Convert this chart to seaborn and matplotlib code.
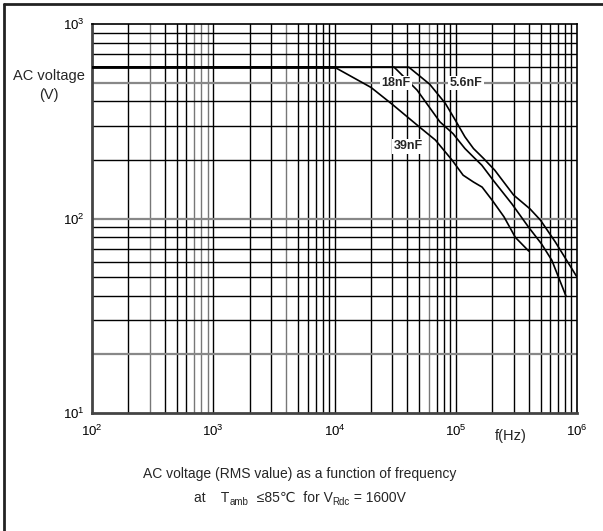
import numpy as np
import pandas as pd
import matplotlib
matplotlib.use("Agg")
import matplotlib.pyplot as plt
from matplotlib.ticker import LogLocator, LogFormatterMathtext, NullLocator
import seaborn as sns

# Rated AC voltage vs frequency (V rms), one curve per capacitance
freq_39nF = [1e2, 1e4, 2e4, 3e4, 5e4, 6.8e4, 9.3e4, 1.15e5, 1.4e5, 1.65e5, 2.0e5, 2.5e5, 3.1e5, 4.0e5]
volt_39nF = [600, 600, 472, 386, 296, 253, 200, 167, 154, 145, 124, 102, 80, 68]

freq_18nF = [1e2, 3.1e4, 3.5e4, 4.8e4, 7.4e4, 9.5e4, 1.19e5, 1.4e5, 1.64e5, 2.04e5, 2.9e5, 4.0e5, 5.1e5, 6.2e5, 8.1e5]
volt_18nF = [600, 600, 557, 457, 314, 273, 229, 207, 188, 157, 119, 90, 74, 61, 40]

freq_5n6F = [1e2, 4.1e4, 6.1e4, 8.2e4, 9.9e4, 1.19e5, 1.4e5, 1.69e5, 2.1e5, 3.0e5, 4.1e5, 5.0e5, 6.6e5, 1e6]
volt_5n6F = [600, 600, 490, 391, 321, 263, 229, 204, 177, 132, 112, 98, 76, 50]

curve_names = ["39nF", "18nF", "5.6nF"]
label_pos = {"18nF": (3.2e4, 497), "5.6nF": (1.22e5, 497), "39nF": (4.05e4, 235)}

flat_freq = [1e2, 1e4]
flat_volt = [600, 600]

sns.set_style("white")
plt.rcParams["font.family"] = ["Liberation Sans", "DejaVu Sans"]
plt.rcParams["mathtext.fontset"] = "custom"
plt.rcParams["mathtext.rm"] = "Liberation Sans"
plt.rcParams["mathtext.it"] = "Liberation Sans:italic"
plt.rcParams["mathtext.bf"] = "Liberation Sans:bold"

W, H = 603, 531
fig = plt.figure(figsize=(W / 100, H / 100), dpi=100)
ax = fig.add_axes([92 / W, 1 - 413 / H, (577 - 92) / W, (413 - 24) / H])

ax.set_xscale("log")
ax.set_yscale("log")
ax.set_xlim(1e2, 1e6)
ax.set_ylim(1e1, 1e3)

# grid: every 1..9 step of each decade; a few lines drawn lighter
gray_x = {300, 700, 800, 900, 4000, 60000}
gray_y = {20, 100, 500}
for dec in [1e2, 1e3, 1e4, 1e5]:
    for m in range(1, 10):
        v = dec * m
        if v <= 1e2:
            continue
        c = "#777777" if int(round(v)) in gray_x else "black"
        ax.axvline(v, color=c, lw=1.0, zorder=1)
for dec in [1e1, 1e2]:
    for m in range(1, 10):
        v = dec * m
        if v <= 1e1:
            continue
        c = "#888888" if int(round(v)) in gray_y else "black"
        ax.axhline(v, color=c, lw=1.0 if c == "black" else 1.6, zorder=1)

frames = []
for name, f, v in [("39nF", freq_39nF, volt_39nF), ("18nF", freq_18nF, volt_18nF), ("5.6nF", freq_5n6F, volt_5n6F)]:
    frames.append(pd.DataFrame({"f": f, "V": v, "C": name}))
df = pd.concat(frames, ignore_index=True)

sns.lineplot(data=df, x="f", y="V", hue="C", units="C", estimator=None, sort=False,
             palette={n: "black" for n in curve_names}, lw=1.2, legend=False, ax=ax, zorder=3)
sns.lineplot(x=flat_freq, y=flat_volt, color="black", lw=2.0, ax=ax, zorder=4)

for name in curve_names:
    x, y = label_pos[name]
    ax.text(x, y, name, fontsize=9, fontweight="bold", ha="center", va="center", zorder=5,
            bbox=dict(facecolor="white", edgecolor="none", pad=1.0))

ax.xaxis.set_major_locator(LogLocator(base=10, numticks=10))
ax.yaxis.set_major_locator(LogLocator(base=10, numticks=10))
ax.xaxis.set_minor_locator(NullLocator())
ax.yaxis.set_minor_locator(NullLocator())
ax.xaxis.set_major_formatter(LogFormatterMathtext())
ax.yaxis.set_major_formatter(LogFormatterMathtext())
ax.tick_params(axis="both", length=0, labelsize=9.5, colors="black")
ax.tick_params(axis="x", pad=8)
ax.tick_params(axis="y", pad=5)
ax.set_xlabel("")
ax.set_ylabel("")

for s in ["left", "bottom"]:
    ax.spines[s].set_color("#444444")
    ax.spines[s].set_linewidth(2.0)
for s in ["top", "right"]:
    ax.spines[s].set_color("black")
    ax.spines[s].set_linewidth(1.2)

fig.text(49 / W, 1 - 76 / H, "AC voltage", fontsize=10.5, ha="center", va="center")
fig.text(49 / W, 1 - 95 / H, "(V)", fontsize=10.5, ha="center", va="center")
fig.text(511 / W, 1 - 436 / H, "f(Hz)", fontsize=10.5, ha="center", va="center")

fig.text(300 / W, 1 - 474 / H, "AC voltage (RMS value) as a function of frequency",
         fontsize=10, ha="center", va="center")

# second caption line, built piece by piece so subscripts and the Celsius sign render
pieces = [("at    T", 10, 0), ("amb", 7, -3), ("  \u226485\u2103  for V", 10, 0),
          ("Rdc", 7, -3), (" = 1600V", 10, 0)]
renderer = fig.canvas.get_renderer()
base_y = H - 502  # baseline in pixels from bottom
texts = []
widths = []
for s, size, dy in pieces:
    t = fig.text(0, 0, s, fontsize=size, ha="left", va="baseline", transform=None)
    widths.append(t.get_window_extent(renderer).width)
    texts.append((t, dy))
x = 300 - sum(widths) / 2
for (t, dy), w in zip(texts, widths):
    t.set_position((x, base_y + dy))
    x += w

# page frame along the top and left edges
fig.add_artist(plt.Line2D([4 / W, 1.0], [1 - 4 / H, 1 - 4 / H], color="#222222", lw=2.0,
                          transform=fig.transFigure))
fig.add_artist(plt.Line2D([4 / W, 4 / W], [0.0, 1 - 4 / H], color="#222222", lw=2.0,
                          transform=fig.transFigure))

fig.savefig("out.png", dpi=100)
